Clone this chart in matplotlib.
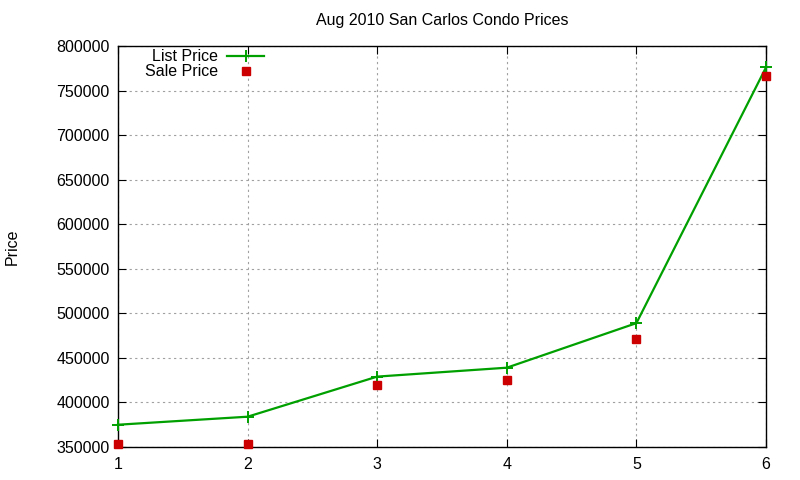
import numpy as np
import matplotlib
matplotlib.use("Agg")
from matplotlib import pyplot as plt

plt.rcParams['font.family'] = ['Liberation Sans', 'DejaVu Sans']

units = [1, 2, 3, 4, 5, 6]
list_price = [375000, 384000, 429000, 439000, 489000, 776000]
sale_price = [353000, 353000, 420000, 425000, 471000, 766000]

green = "#00a000"
red = "#cc0000"
fs = 11.5

fig = plt.figure(figsize=(8, 4.8), dpi=100)
ax = fig.add_axes([118 / 800, 1 - 447 / 480, (766 - 118) / 800, (447 - 46) / 480])

ax.plot(units, list_price, color=green, lw=1.6, marker="+", ms=8, mew=1.4,
        label="List Price", clip_on=False, zorder=3)
ax.plot(units, sale_price, color=red, ls="none", marker="s", ms=5.5,
        label="Sale Price", clip_on=False, zorder=4)

ax.set_xlim(1, 6)
ax.set_ylim(350000, 800000)
ax.set_xticks(units)
ax.set_yticks(np.arange(350000, 800001, 50000))
ax.yaxis.set_major_formatter(matplotlib.ticker.FuncFormatter(lambda v, p: "%d" % v))
ax.tick_params(direction="in", top=True, right=True, length=6, labelsize=fs, colors="black")
ax.tick_params(axis="y", pad=6)
ax.tick_params(axis="x", pad=7)
ax.grid(True, color="#a0a0a0", ls=(0, (2, 3)), lw=0.8)
for s in ax.spines.values():
    s.set_linewidth(1.0)

ax.set_title("Aug 2010 San Carlos Condo Prices", fontsize=fs, pad=15)
fig.text(12 / 800, 1 - 247 / 480, "Price", rotation=90, ha="center", va="center", fontsize=fs)

leg = ax.legend(loc="upper left", bbox_to_anchor=(0.024, 1.02), frameon=False,
                markerfirst=False, fontsize=fs, handlelength=2.3,
                handletextpad=0.6, labelspacing=0.0, borderpad=0.2)

fig.savefig("out.png", dpi=100)
